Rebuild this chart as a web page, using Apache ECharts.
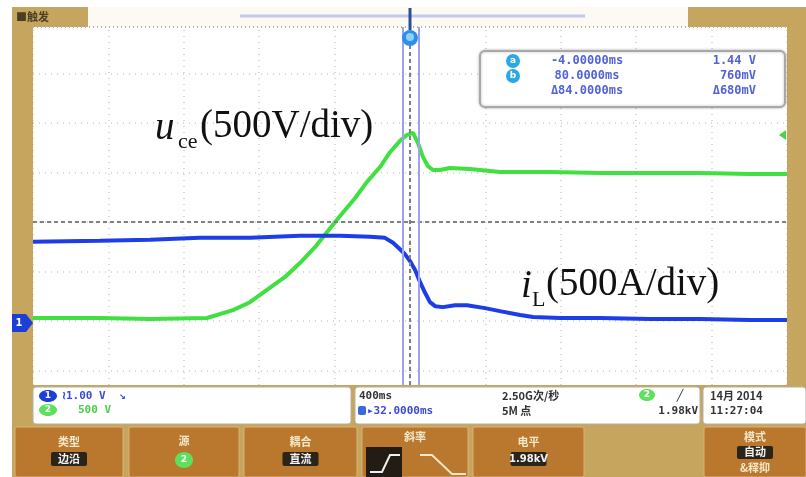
<!DOCTYPE html>
<html><head><meta charset="utf-8">
<script src="https://cdn.jsdelivr.net/npm/echarts@6/dist/echarts.min.js"></script>
<style>html,body{margin:0;padding:0;background:#fff}#c{width:806px;height:477px}</style>
</head><body><div id="c"></div>
<script>
// ---- data (time in ms, amplitude in screen divisions) ----
const timeGreen = [-1968,-1613,-1347,-1045,-907,-817,-727,-631,-552,-472,-408,-339,-260,-196,-127,-74,-21,16,48,74,101,127,154,191,244,350,509,775,1040,1305,1570,1836,2032];
const uceDiv    = [-1.94,-1.94,-1.96,-1.94,-1.78,-1.62,-1.37,-1.11,-0.83,-0.51,-0.20,0.12,0.48,0.81,1.11,1.41,1.64,1.76,1.80,1.60,1.31,1.13,1.05,1.05,1.09,1.07,1.01,1.01,0.99,0.99,0.99,0.97,0.97];
const timeBlue  = [-1968,-1613,-1347,-1082,-817,-552,-339,-180,-101,-58,-21,5,32,59,85,112,138,165,207,271,334,430,509,616,685,828,1040,1305,1570,1836,2032];
const iLDiv     = [-0.40,-0.38,-0.36,-0.32,-0.32,-0.28,-0.28,-0.30,-0.32,-0.42,-0.55,-0.65,-0.79,-0.97,-1.21,-1.43,-1.62,-1.70,-1.72,-1.68,-1.68,-1.74,-1.80,-1.88,-1.92,-1.94,-1.94,-1.96,-1.96,-1.98,-1.98];
const cursorTimes = [-4, 80];
const screenCenterMs = 32;
const readoutTimes = ['-4.00000ms','80.0000ms','\u039484.0000ms'];
const readoutVolts = ['1.44 V','760mV','\u0394680mV'];
const labelU = ['u','ce','(500V/div)'];
const labelI = ['i','L','(500A/div)'];

const GOLD='#c6a55e', BTN='#b9782d', CREAM='#f4e7c8';
const g=[];
function R(x,y,w,h,fill,o){o=o||{};g.push({type:'rect',z:o.z||100,silent:true,shape:{x:x,y:y,width:w,height:h,r:o.r||0},style:{fill:fill,stroke:o.stroke||null,lineWidth:o.lw||0,shadowBlur:o.sb||0,shadowColor:o.sc||'transparent'}});}
function T(x,y,t,font,fill,align,z){g.push({type:'text',z:z||120,silent:true,x:x,y:y,style:{text:t,font:font,fill:fill,align:align||'left',verticalAlign:'middle',textAlign:align||'left',textVerticalAlign:'middle'}});}
function C(cx,cy,r,fill,z){g.push({type:'circle',z:z||110,silent:true,shape:{cx:cx,cy:cy,r:r},style:{fill:fill}});}
function E(cx,cy,rx,ry,fill,z){g.push({type:'ellipse',z:z||110,silent:true,shape:{cx:cx,cy:cy,rx:rx,ry:ry},style:{fill:fill}});}
function L(x1,y1,x2,y2,stroke,w,dash,z){g.push({type:'line',z:z||105,silent:true,shape:{x1:x1,y1:y1,x2:x2,y2:y2},style:{stroke:stroke,lineWidth:w,lineDash:dash||null}});}
function P(pts,fill,z,stroke,lw){g.push({type:(fill?'polygon':'polyline'),z:z||110,silent:true,shape:{points:pts},style:{fill:fill||null,stroke:stroke||null,lineWidth:lw||0}});}

// frame
R(12,7,21,420,GOLD);
R(787,7,19,420,GOLD);
R(12,7,76,20,GOLD);
R(688,7,118,20,GOLD);
R(88,7,600,20,'#fcfaf2');
L(240,16,585,16,'#c3c8f2',3);
T(16,17,'\u25a0\u89e6\u53d1','bold 11px "Noto Sans CJK SC"','#4a3f25');
L(33,27,787,27,'#b9b2a0',2,[1,3]);
// trigger marker
L(410,8,410,30,'#2a4f96',3);
C(410,38,8,'#2f8fe6');
C(410,37,4,'#8fd0ff');
// channel ground marker
P([[12,314],[26,314],[33,323],[26,332],[12,332]],'#1d3fd6');
T(19,323,'1','bold 10px "DejaVu Sans"','#ffffff','center');
// trigger level marker
P([[786,130],[779,135],[786,140]],'#4ad24a');
// readout box
R(480,51,305,56,'#ffffff',{r:5,stroke:'#a8a8a8',lw:2,sb:3,sc:'rgba(0,0,0,0.25)',z:100});
C(513,61,7,'#2aa8e6');C(513,76,7,'#2aa8e6');
T(513,61,'a','bold 9px "DejaVu Sans"','#fff','center');T(513,76,'b','bold 9px "DejaVu Sans"','#fff','center');
for(let i=0;i<3;i++){T(587,61+i*15,readoutTimes[i],'bold 12px "DejaVu Sans Mono"','#5262d8','center');T(756,61+i*15,readoutVolts[i],'bold 12px "DejaVu Sans Mono"','#5262d8','right');}
// labels
const serif='"Liberation Serif","DejaVu Serif",serif';
T(155,129,labelU[0],'italic 39px '+serif,'#111');
T(178,142,labelU[1],'22px '+serif,'#111');
T(200,127,labelU[2],'39px '+serif,'#111');
T(521,287,labelI[0],'italic 39px '+serif,'#111');
T(532,300,labelI[1],'22px '+serif,'#111');
T(546,285,labelI[2],'39px '+serif,'#111');
// bottom panel
R(12,385,794,92,GOLD,{z:100});
R(33,387,318,37,'#ffffff',{r:3,stroke:'#b8b0a0',lw:1});
R(355,387,345,37,'#ffffff',{r:3,stroke:'#b8b0a0',lw:1});
R(703,387,103,37,'#ffffff',{r:3,stroke:'#b8b0a0',lw:1});
E(48,396,9,6,'#1d3fd6');T(48,396,'1','bold 9px "DejaVu Sans"','#fff','center');
T(62,396,'\u22401.00 V  \u2198','bold 11px "DejaVu Sans Mono"','#3a4ad8');
E(48,410,9,6,'#5ee05e');T(48,410,'2','bold 9px "DejaVu Sans"','#fff','center');
T(78,410,'500 V','bold 11px "DejaVu Sans Mono"','#4ccf4c');
T(359,396,'400ms','bold 11px "DejaVu Sans Mono"','#333');
T(502,396,'2.50G\u6b21/\u79d2','bold 11px "Noto Sans CJK SC"','#333');
E(647,395,8,6,'#5ee05e');T(647,395,'2','bold 9px "DejaVu Sans"','#fff','center');
T(680,396,'\u2571','bold 11px "DejaVu Sans"','#333','center');
R(358,406,8,9,'#3a6ad8',{r:2,z:110});
T(367,411,'\u25b832.0000ms','bold 11px "DejaVu Sans Mono"','#3a4ad8');
T(502,411,'5M \u70b9','bold 11px "Noto Sans CJK SC"','#333');
T(698,411,'1.98kV','bold 11px "DejaVu Sans Mono"','#333','right');
T(710,396,'14\u6708 2014','bold 11px "Noto Sans CJK SC"','#333');
T(710,411,'11:27:04','bold 11px "DejaVu Sans Mono"','#333');
// buttons
const btns=[[15,108,'\u7c7b\u578b','\u8fb9\u6cbf'],[129,110,'\u6e90',null],[244,113,'\u8026\u5408','\u76f4\u6d41'],[362,106,null,null],[473,111,'\u7535\u5e73','1.98kV'],[704,102,'\u6a21\u5f0f','\u81ea\u52a8']];
btns.forEach(function(b){R(b[0],427,b[1],50,BTN,{r:2,stroke:'#d9b27a',lw:1});});
const cj='bold 11px "Noto Sans CJK SC"';
[[0,442],[2,442],[4,442]].forEach(function(p){const b=btns[p[0]];const cx=b[0]+b[1]/2;T(cx,p[1],b[2],cj,CREAM,'center');R(cx-18,452,36,14,'#2b2419',{r:2,z:110});T(cx,459,b[3],b[3].length>3?'bold 10px "DejaVu Sans"':cj,'#f2f2f2','center');});
(function(){const b=btns[1];const cx=b[0]+b[1]/2;T(cx,441,b[2],cj,CREAM,'center');E(cx,460,9,8,'#5ee05e');T(cx,460,'2','bold 9px "DejaVu Sans"','#fff','center');})();
(function(){const b=btns[5];const cx=b[0]+b[1]/2;T(cx,437,b[2],cj,CREAM,'center');R(cx-18,446,36,13,'#2b2419',{r:2,z:110});T(cx,452,b[3],cj,'#f2f2f2','center');T(cx,468,'&\u91ca\u6291',cj,CREAM,'center');})();
T(415,437,'\u659c\u7387',cj,CREAM,'center');
R(366,447,36,30,'#221c14',{z:110});
P([[370,472],[382,472],[390,455],[400,455]],null,115,'#f0f0f0',2);
P([[420,455],[432,455],[452,474],[466,474]],null,115,CREAM,2);

const chart=echarts.init(document.getElementById('c'));
const ml=function(arr){return {silent:true,symbol:'none',label:{show:false},data:arr};};
chart.setOption({
  animation:false,
  backgroundColor:'#ffffff',
  grid:{left:33,right:19,top:24,bottom:57,show:true,backgroundColor:'#ffffff',borderWidth:0},
  xAxis:{type:'value',min:-1968,max:2032,interval:400,axisLine:{show:false},axisTick:{show:false},axisLabel:{show:false},
    splitLine:{show:true,lineStyle:{color:'#cccccc',width:1.5,type:[1,5]}}},
  yAxis:{type:'value',min:-4,max:4,interval:1,axisLine:{show:false},axisTick:{show:false},axisLabel:{show:false},
    splitLine:{show:true,lineStyle:{color:'#cccccc',width:1.5,type:[1,5]}}},
  series:[
    {type:'line',data:[],z:1,silent:true,
      markLine:Object.assign(ml([{yAxis:0},{xAxis:screenCenterMs}]),{lineStyle:{color:'#808080',width:2,type:[4,3]}})},
    {type:'line',data:[],z:1,silent:true,
      markLine:Object.assign(ml(cursorTimes.map(function(t){return {xAxis:t};})),{lineStyle:{color:'#9ca2ee',width:2,type:'solid'}})},
    {type:'line',name:'uce',data:timeGreen.map(function(t,i){return [t,uceDiv[i]];}),showSymbol:false,symbol:'none',z:3,
      lineStyle:{color:'#3fe03f',width:4}},
    {type:'line',name:'iL',data:timeBlue.map(function(t,i){return [t,iLDiv[i]];}),showSymbol:false,symbol:'none',z:3,
      lineStyle:{color:'#1d3ee6',width:4}}
  ],
  graphic:g
});
</script></body></html>
